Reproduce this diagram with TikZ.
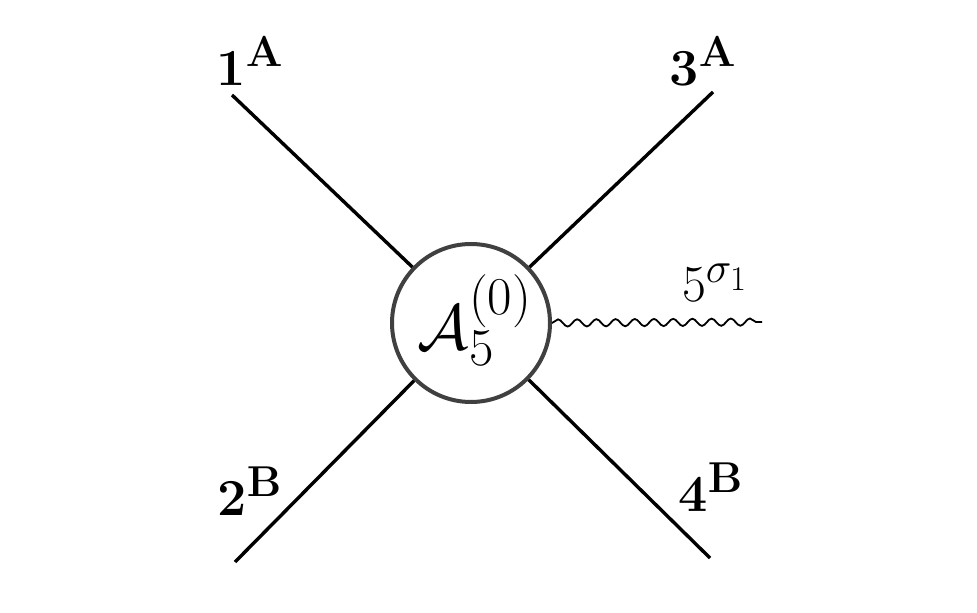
\RequirePackage{fix-cm}
\documentclass[tikz,border=0pt]{standalone}
\usetikzlibrary{decorations.pathmorphing}
\DeclareMathSizes{32}{32}{26.6}{21.3}
\DeclareMathSizes{26}{26}{21.6}{17.3}
\begin{document}
\begin{tikzpicture}[x=0.5pt,y=-0.5pt,
  leg/.style={line width=1.7pt,black},
  blob/.style={circle,draw=black!75,line width=2pt,minimum size=79pt,inner sep=0pt,fill=white},
  lab/.style={font=\fontsize{26}{28}\selectfont,inner sep=0pt},
  wavy/.style={line width=0.9pt,decorate,decoration={snake,segment length=9.6pt,amplitude=1.8pt}}]
\useasboundingbox (0,0) rectangle (977,613);
\coordinate (p1) at (232,95);
\coordinate (p3) at (713,92);
\coordinate (p2) at (235,562);
\coordinate (p4) at (710,558);
\coordinate (w) at (762,322);
\node[blob] (c) at (471,323) {};
\node[inner sep=0pt,font=\fontsize{32}{34}\selectfont] (a) at (475,320) {$\mathcal{A}_5^{(0)}$};
\draw[leg] (p1) -- (c);
\draw[leg] (p3) -- (c);
\draw[leg] (p2) -- (c);
\draw[leg] (p4) -- (c);
\draw[wavy] (c.east) -- (w);
\node[lab] (l1) at (250,61) {$\mathbf{1}^{\mathbf{A}}$};
\node[lab] (l3) at (703,61) {$\mathbf{3}^{\mathbf{A}}$};
\node[lab] (l2) at (250,491) {$\mathbf{2}^{\mathbf{B}}$};
\node[lab] (l4) at (711,487) {$\mathbf{4}^{\mathbf{B}}$};
\node[lab] (l5) at (715,283) {$5^{\sigma_1}$};
\end{tikzpicture}
\end{document}
